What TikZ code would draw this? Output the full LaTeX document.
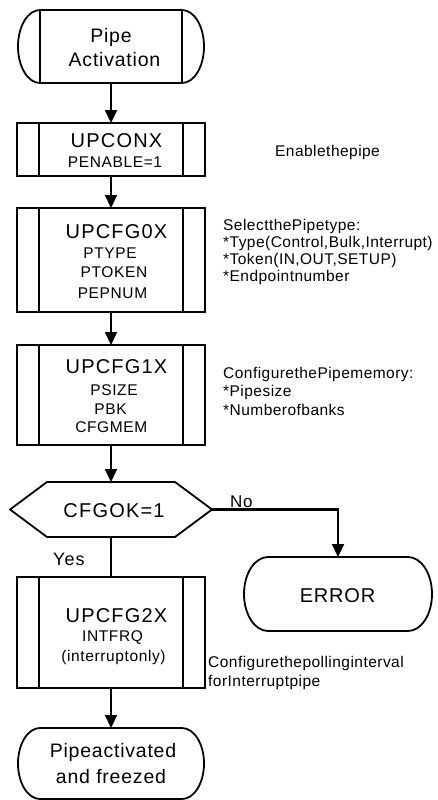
\documentclass[tikz,border=0pt]{standalone}
\usepackage{fontspec}
\setmainfont{Liberation Sans}
\newfontfamily\fbig[LetterSpace=6]{Liberation Sans}
\newfontfamily\fmid[LetterSpace=4]{Liberation Sans}
\newfontfamily\fann[LetterSpace=3]{Liberation Sans}
\usetikzlibrary{arrows.meta}
\newcommand\termshape[3]{%
  \draw[outl] ([xshift=#2]#1.north west) -- ([xshift=-#2]#1.north east)
    arc[start angle=90,end angle=-90,x radius=#2,y radius=#3]
    -- ([xshift=#2]#1.south west)
    arc[start angle=270,end angle=90,x radius=#2,y radius=#3] -- cycle;}
\begin{document}
\begin{tikzpicture}[x=1pt,y=1pt,
  outl/.style={line width=1.8pt, line join=round},
  frame/.style={draw=none, inner sep=0pt, outer sep=0pt},
  proc/.style={draw, line width=1.8pt, minimum width=188pt, inner sep=0pt, outer sep=0pt,
    path picture={\draw[line width=1.8pt]
      ([xshift=22pt]path picture bounding box.north west) -- ([xshift=22pt]path picture bounding box.south west)
      ([xshift=-22pt]path picture bounding box.north east) -- ([xshift=-22pt]path picture bounding box.south east);}},
  arr/.style={line width=2.2pt, -{Triangle[length=13pt,width=12pt]}},
  ln/.style={line width=2.2pt},
  bigt/.style={font=\fbig\fontsize{20}{22}\selectfont, inner sep=0pt, anchor=base},
  termt/.style={font=\fmid\fontsize{19.5}{22}\selectfont, inner sep=0pt, anchor=base},
  midt/.style={font=\fmid\fontsize{15.5}{18}\selectfont, inner sep=0pt, anchor=base},
  annt/.style={font=\fann\fontsize{15.5}{17}\selectfont, inner sep=0pt, anchor=base west},
]
\useasboundingbox (0,0) rectangle (437,-800);
\fill[white] (0,0) rectangle (437,-800);

% shapes
\node[frame, minimum width=186pt, minimum height=73pt] (start) at (111,-46.5) {};
\termshape{start}{22pt}{36.5pt}
\draw[outl] ([xshift=22pt]start.north west) -- ([xshift=22pt]start.south west)
            ([xshift=-22pt]start.north east) -- ([xshift=-22pt]start.south east);

\node[proc, minimum height=53pt] (b1) at (111,-149.5) {};
\node[proc, minimum height=104pt] (b2) at (111,-260) {};
\node[proc, minimum height=100pt] (b3) at (111,-395) {};

\node[frame, minimum width=202pt, minimum height=55pt] (hex) at (111,-509.5) {};
\draw[outl] (hex.west) -- ([xshift=37pt]hex.north west) -- ([xshift=-37pt]hex.north east)
  -- (hex.east) -- ([xshift=-37pt]hex.south east) -- ([xshift=37pt]hex.south west) -- cycle;

\node[proc, minimum height=111pt] (b5) at (111,-632.5) {};

\node[frame, minimum width=188pt, minimum height=74pt] (err) at (338,-594) {};
\termshape{err}{24pt}{37pt}

\node[frame, minimum width=186pt, minimum height=71pt] (final) at (111,-763.5) {};
\termshape{final}{22pt}{35.5pt}

% connectors
\draw[arr] (start) -- (b1);
\draw[arr] (b1) -- (b2);
\draw[arr] (b2) -- (b3);
\draw[arr] (b3) -- (hex);
\draw[ln] (hex) -- (b5);
\draw[arr] (b5) -- (final);
\draw[arr] (hex.east) -| (err.north);

% texts in shapes
\node[termt] (tPipe) at (111,-42.8) {Pipe};
\node[termt] (tAct) at (114.5,-66.3) {Activation};
\node[bigt] (t1) at (116.5,-147) {UPCONX};
\node[midt] (t1a) at (115,-167.3) {PENABLE=1};
\node[bigt] (t2) at (116.5,-238.7) {UPCFG0X};
\node[midt] (t2a) at (110,-258.3) {PTYPE};
\node[midt] (t2b) at (114,-277.3) {PTOKEN};
\node[midt] (t2c) at (112.5,-298.3) {PEPNUM};
\node[bigt] (t3) at (116.5,-373.7) {UPCFG1X};
\node[midt] (t3a) at (114,-395) {PSIZE};
\node[midt] (t3b) at (110.5,-414.5) {PBK};
\node[midt] (t3c) at (111.3,-432.7) {CFGMEM};
\node[bigt] (th) at (114,-517.2) {CFGOK=1};
\node[bigt] (t5) at (116.5,-622.2) {UPCFG2X};
\node[midt] (t5a) at (112.5,-641.7) {INTFRQ};
\node[midt] (t5b) at (113.5,-661) {(interruptonly)};
\node[font=\fmid\fontsize{20}{22}\selectfont, inner sep=0pt, anchor=base] (terr) at (337.5,-602) {ERROR};
\node[termt] (tf1) at (113,-757) {Pipeactivated};
\node[termt] (tf2) at (111,-783) {and freezed};

% branch labels
\node[font=\fbig\fontsize{18}{20}\selectfont, inner sep=0pt, anchor=base west] (yes) at (53,-565) {Yes};
\node[font=\fmid\fontsize{17}{20}\selectfont, inner sep=0pt, anchor=base west] (no) at (230,-507) {No};

% annotations
\node[annt] (a1) at (275,-156) {Enablethepipe};
\node[annt] (a2) at (223,-230.7) {SelectthePipetype:};
\node[annt] (a3) at (223,-247.7) {*Type(Control,Bulk,Interrupt)};
\node[annt] (a4) at (223,-264.3) {*Token(IN,OUT,SETUP)};
\node[annt] (a5) at (223,-281.7) {*Endpointnumber};
\node[annt] (a6) at (223,-378.3) {ConfigurethePipememory:};
\node[annt] (a7) at (223,-396.7) {*Pipesize};
\node[annt] (a8) at (223,-415) {*Numberofbanks};
\node[annt] (a9) at (208,-667.3) {Configurethepollinginterval};
\node[annt] (a10) at (208,-686.7) {forInterruptpipe};
\end{tikzpicture}
\end{document}
